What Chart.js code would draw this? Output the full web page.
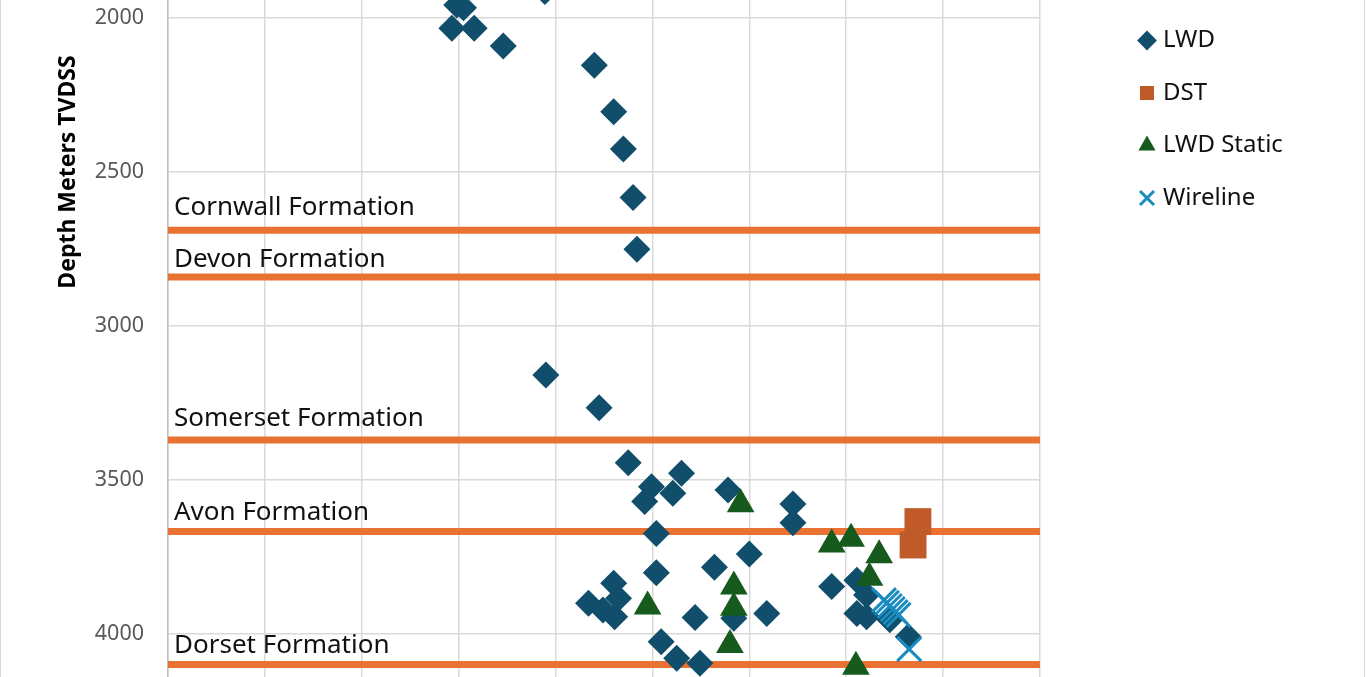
<!DOCTYPE html>
<html>
<head>
<meta charset="utf-8">
<script src="https://cdn.jsdelivr.net/npm/chart.js@4.4.1/dist/chart.umd.min.js"></script>
<style>
  html, body { margin: 0; padding: 0; background: #fff; overflow: hidden; }
  #wrap { position: absolute; left: 0; top: 0; width: 1365px; height: 677px; box-sizing: border-box;
          border-left: 1px solid #d9d9d9; border-right: 1px solid #d9d9d9; }
  canvas { display: block; }
</style>
</head>
<body>
<div id="wrap"><canvas id="myChart" width="1363" height="677"></canvas></div>
<script>
// x axis labels are cut off in the source, so x runs in gridline units 0..9
var lwdX = [2.98, 3.05, 2.93, 3.16, 3.46, 3.89, 4.40, 4.60, 4.70, 4.80, 4.84, 3.90, 4.45, 4.75, 4.99,
            4.92, 5.21, 5.30, 5.78, 6.45, 6.45, 5.04, 6.00, 5.64, 5.04, 4.34, 4.60, 4.65, 4.49, 4.61,
            5.44, 5.84, 6.18, 5.09, 5.25, 5.49, 6.85, 7.11, 7.21, 7.11, 7.21, 7.45, 7.64];
var lwdDepth = [1959, 1968, 2034, 2034, 2092, 1915, 2154, 2305, 2426, 2584, 2752, 3160, 3266, 3445, 3523,
                3571, 3544, 3479, 3533, 3579, 3640, 3675, 3741, 3784, 3802, 3901, 3836, 3885, 3923, 3945,
                3947, 3950, 3934, 4026, 4080, 4096, 3847, 3826, 3874, 3934, 3945, 3955, 4010];
var dstX = [7.74, 7.69];
var dstDepth = [3636, 3712];
var staticX = [5.91, 4.95, 5.84, 5.84, 5.80, 6.85, 7.05, 7.34, 7.24, 7.10];
var staticDepth = [3580, 3912, 3847, 3916, 4037, 3710, 3692, 3745, 3818, 4107];
var wirelineX = [7.39, 7.42, 7.45, 7.48, 7.51, 7.54, 7.65];
var wirelineDepth = [3891, 3900, 3910, 3920, 3930, 3939, 4050];

var formationNames = ['Cornwall Formation', 'Devon Formation', 'Somerset Formation', 'Avon Formation', 'Dorset Formation'];
var formationDepths = [2690, 2842, 3371, 3668, 4100];

var depthTicks = [2000, 2500, 3000, 3500, 4000];
var depthMin = 1942.5, depthMax = 4140.5;
var xMin = 0, xMax = 9;

function pts(xs, ys) {
    return xs.map(function (x, i) { return { x: x, y: ys[i] }; });
}

// how far each formation label sits above its line, in px
var labelLift = [15, 10, 13.5, 11.5, 12];

Chart.defaults.font.family = '"Noto Sans", sans-serif';

var annotationText = {
    id: 'annotationText',
    afterInit: function (chart) {
        var lg = chart.legend;
        var fit = lg.fit.bind(lg);
        lg.fit = function () { fit(); this.width = 249.5; };
    },
    beforeDatasetsDraw: function (chart) {
        var ctx = chart.ctx, area = chart.chartArea, y = chart.scales.y;
        ctx.save();
        ctx.fillStyle = '#111111';
        ctx.font = '26px "Noto Sans"';
        ctx.textAlign = 'left';
        ctx.textBaseline = 'alphabetic';
        formationNames.forEach(function (name, i) {
            ctx.fillText(name, area.left + 6, y.getPixelForValue(formationDepths[i]) - labelLift[i]);
        });
        ctx.restore();
    },
    afterDraw: function (chart) {
        var ctx = chart.ctx;
        ctx.save();
        ctx.translate(67, 172);
        ctx.rotate(-Math.PI / 2);
        ctx.font = 'bold 23px "Noto Sans"';
        ctx.fillStyle = '#000000';
        ctx.textAlign = 'center';
        ctx.textBaseline = 'middle';
        ctx.fillText('Depth Meters TVDSS', 0, 0);
        ctx.restore();
    }
};

var datasets = [
    { label: 'LWD', data: pts(lwdX, lwdDepth), pointStyle: 'rectRot', pointRadius: 13.5,
      backgroundColor: '#104E6B', borderColor: '#104E6B', borderWidth: 0, order: 4, clip: false },
    { label: 'DST', data: pts(dstX, dstDepth), pointStyle: 'rect', pointRadius: 19,
      backgroundColor: '#C05A28', borderColor: '#C05A28', borderWidth: 0, order: 3, clip: false },
    { label: 'LWD Static', data: pts(staticX, staticDepth), pointStyle: 'triangle', pointRadius: 16,
      backgroundColor: '#165A1E', borderColor: '#165A1E', borderWidth: 0, order: 2, clip: false },
    { label: 'Wireline', data: pts(wirelineX, wirelineDepth), pointStyle: 'crossRot', pointRadius: 17,
      backgroundColor: '#1A8CC0', borderColor: '#1A8CC0', borderWidth: 3, order: 1, clip: false }
];

formationNames.forEach(function (name, i) {
    datasets.push({
        label: name,
        data: [{ x: xMin, y: formationDepths[i] }, { x: xMax, y: formationDepths[i] }],
        showLine: true,
        pointRadius: 0,
        borderColor: '#E97132',
        backgroundColor: '#E97132',
        borderWidth: 7,
        order: 10
    });
});

var ctx = document.getElementById('myChart').getContext('2d');
var myChart = new Chart(ctx, {
    type: 'scatter',
    data: { datasets: datasets },
    plugins: [annotationText],
    options: {
        responsive: false,
        animation: false,
        events: [],
        layout: { padding: 0, autoPadding: false },
        plugins: {
            tooltip: { enabled: false },
            legend: {
                position: 'right',
                align: 'start',
                labels: {
                    usePointStyle: true,
                    boxWidth: 8,
                    boxHeight: 14,
                    padding: 28.5,
                    color: '#111111',
                    font: { size: 24 },
                    sort: function (a, b) { return a.datasetIndex - b.datasetIndex; },
                    filter: function (item) { return item.datasetIndex < 4; }
                }
            }
        },
        scales: {
            x: {
                type: 'linear',
                min: xMin,
                max: xMax,
                ticks: { display: false, stepSize: 1 },
                grid: { color: '#D9D9D9', lineWidth: 1.5, drawTicks: false },
                border: { display: false }
            },
            y: {
                type: 'linear',
                reverse: true,
                min: depthMin,
                max: depthMax,
                ticks: {
                    padding: 24,
                    color: '#595959',
                    font: { size: 21.5 },
                    autoSkip: false,
                    callback: function (v) { return String(v); }
                },
                afterBuildTicks: function (scale) {
                    scale.ticks = depthTicks.map(function (v) { return { value: v }; });
                },
                afterFit: function (scale) {
                    scale.width = 167;
                    scale.paddingTop = 0;
                    scale.paddingBottom = 0;
                },
                grid: { color: '#D9D9D9', lineWidth: 1.5, drawTicks: false },
                border: { display: true, color: '#BFBFBF', width: 1.5 }
            },
            gap: {
                type: 'linear',
                position: 'right',
                display: true,
                ticks: { display: false },
                grid: { display: false, drawTicks: false },
                border: { display: false },
                afterFit: function (scale) { scale.width = 74.5; }
            }
        }
    }
});
</script>
</body>
</html>
